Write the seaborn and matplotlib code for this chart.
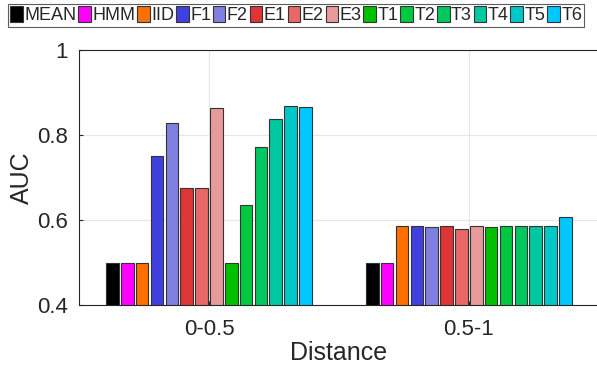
import pandas as pd
import numpy as np
import matplotlib
matplotlib.use('Agg')
from matplotlib import pyplot as plt
import seaborn as sns

# chart values
methods = ['MEAN', 'HMM', 'IID', 'F1', 'F2', 'E1', 'E2', 'E3',
           'T1', 'T2', 'T3', 'T4', 'T5', 'T6']
distances = ['0-0.5', '0.5-1']
auc_near = [0.5, 0.5, 0.5, 0.75, 0.828, 0.675, 0.675, 0.863,
            0.5, 0.635, 0.772, 0.838, 0.868, 0.867]
auc_far = [0.5, 0.5, 0.585, 0.585, 0.583, 0.587, 0.58, 0.587,
           0.583, 0.586, 0.586, 0.586, 0.586, 0.608]
colors = ['#000000', '#ff00ff', '#ff7000', '#4040e0', '#8080e0', '#e03535',
          '#e86868', '#e89a9a', '#00c000', '#00c840', '#00c860', '#00c8a0',
          '#00c8c8', '#00c8ff']

df = pd.DataFrame({
    'Distance': [distances[0]] * len(methods) + [distances[1]] * len(methods),
    'Method': methods + methods,
    'AUC': auc_near + auc_far,
})

sns.set_style('white')
plt.rcParams['font.family'] = ['Liberation Sans', 'DejaVu Sans']

fig = plt.figure(figsize=(5.97, 3.67), dpi=100)
ax = fig.add_axes([79 / 597, 62 / 367, 1 - 79 / 597 + 0.003, 255 / 367])

sns.barplot(data=df, x='Distance', y='AUC', hue='Method', hue_order=methods,
            palette=colors, saturation=1, width=0.8, gap=0.15,
            edgecolor='#333333', linewidth=0.8, ax=ax, legend=True)

ax.set_ylim(0.4, 1.0)
ax.set_xlim(-0.5, 1.5)
ax.set_yticks([0.4, 0.6, 0.8, 1.0])
ax.set_yticklabels(['0.4', '0.6', '0.8', '1'])
ax.grid(True, color='#e6e6e6', linewidth=0.8)
ax.set_axisbelow(True)
for s in ax.spines.values():
    s.set_color('#262626')
    s.set_linewidth(0.8)
ax.tick_params(axis='both', labelsize=16, colors='#262626', length=3,
               direction='in', left=True, bottom=True)
ax.tick_params(axis='x', pad=10)
ax.tick_params(axis='y', pad=8)
ax.set_xlabel('Distance', fontsize=18, color='#262626', labelpad=1)
ax.set_ylabel('AUC', fontsize=18, color='#262626', labelpad=2)

# legend across the top
handles, labels = ax.get_legend_handles_labels()
ax.get_legend().remove()
leg = fig.legend(handles, labels, loc='upper left', ncol=14,
                 bbox_to_anchor=(8 / 597, 1 - 4 / 367), frameon=True,
                 fontsize=13, handlelength=0.7, handleheight=1.0,
                 handletextpad=0.08, columnspacing=0.1, borderpad=0.12,
                 borderaxespad=0.0, fancybox=False)
leg.get_frame().set_edgecolor('#333333')
leg.get_frame().set_linewidth(0.8)

plt.savefig('out.png', dpi=100)
